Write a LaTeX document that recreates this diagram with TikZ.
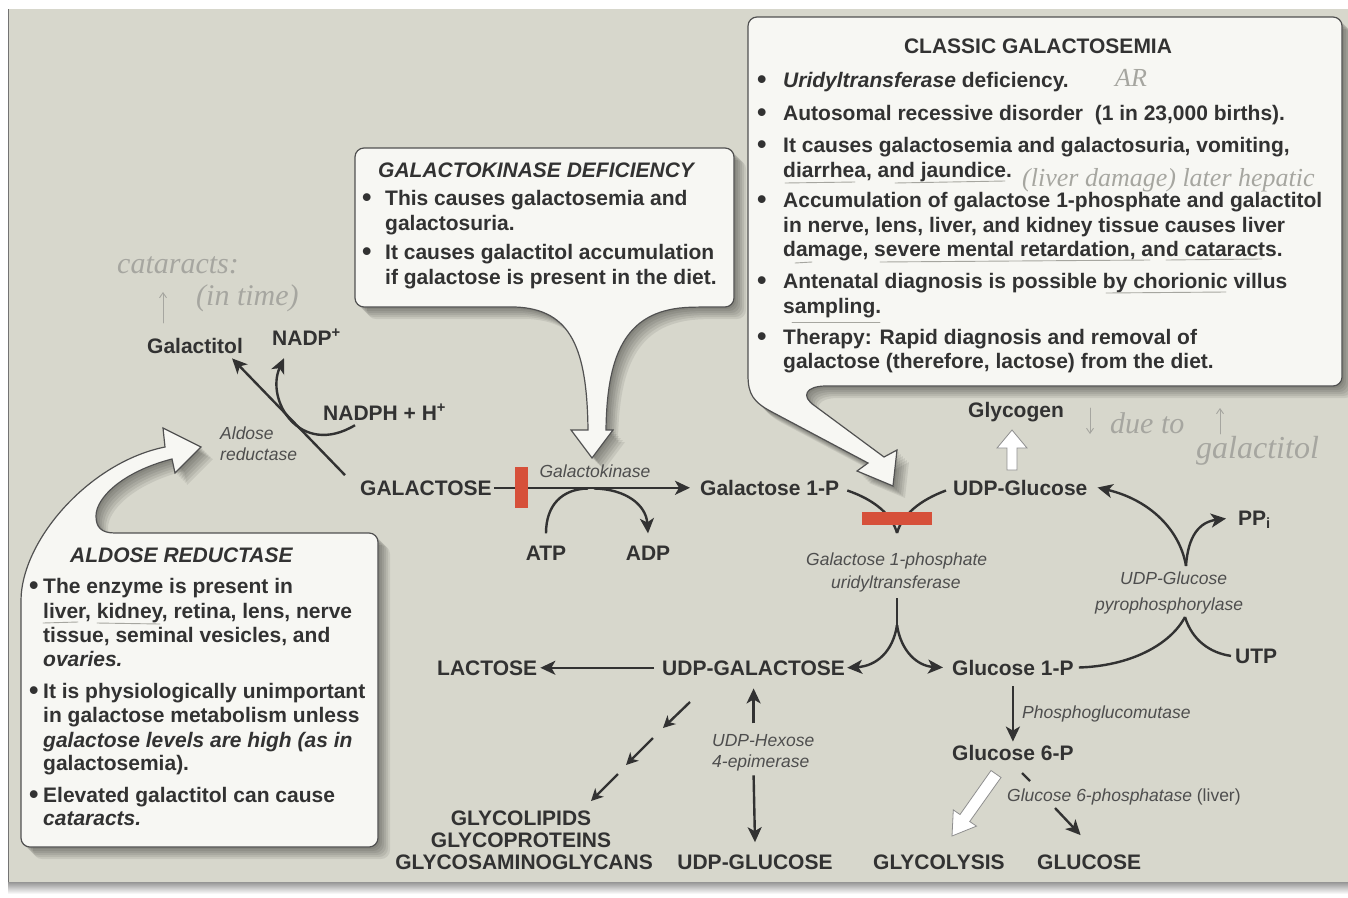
\documentclass[tikz,border=0pt]{standalone}
\usepackage{fontspec}
\setmainfont{Liberation Sans}
\newfontfamily\handfont{Liberation Serif}
\usetikzlibrary{arrows.meta}

\definecolor{page}{RGB}{215,215,204}
\definecolor{ink}{RGB}{50,50,50}
\definecolor{enz}{RGB}{78,78,78}
\definecolor{boxfill}{RGB}{247,247,243}
\definecolor{block}{RGB}{214,80,58}
\definecolor{pencil}{RGB}{166,166,160}

\newcommand\bulletbox[1]{\makebox[#1][l]{\fontsize{27}{24}\selectfont\raisebox{-1.5pt}{\textbullet}}}

% callout outlines (pixel-like units, y downwards)
\def\gkpath{(355,230) [rounded corners=9pt] -- (355,148) -- (734,148) -- (734,307) -- (700,307) [sharp corners]
  .. controls (628,309) and (607,350) .. (606,430) -- (613,430) -- (592,458) -- (571,430) -- (588,430)
  .. controls (587,350) and (572,309) .. (515,307) [rounded corners=9pt] -- (355,307) -- cycle}
\def\cgpath{(1342,200) [rounded corners=9pt] -- (1342,386) -- (835,386) [sharp corners]
  .. controls (806,386) and (800,396) .. (815,406) -- (884,457) -- (897,450) -- (893,486) -- (857,471) -- (868,463)
  -- (772,412) .. controls (753,402) and (748,394) .. (748,375) [rounded corners=9pt] -- (748,17) -- (1342,17) -- cycle}
\def\arpath{(378,700) [rounded corners=9pt] -- (378,847) -- (21,847) -- (21,610) [sharp corners]
  .. controls (21,540) and (90,462) .. (165,447) -- (163,428) -- (201,447) -- (175,473) -- (172,459)
  .. controls (122,472) and (96,498) .. (96,516) .. controls (96,527) and (101,533) .. (115,533)
  [rounded corners=9pt] -- (378,533) -- cycle}

\begin{document}
\begin{tikzpicture}[x=1pt,y=-1pt,
  lbl/.style={font=\bfseries\fontsize{21}{24}\selectfont, text=ink, inner sep=0pt, anchor=base west},
  enzyme/.style={font=\itshape\fontsize{17.5}{21}\selectfont, text=enz, inner sep=0pt, anchor=base west},
  boxtext/.style={font=\bfseries\fontsize{21}{24}\selectfont, text=ink, inner sep=0pt, anchor=base west},
  boxtitle/.style={font=\bfseries\itshape\fontsize{21}{24}\selectfont, text=ink, inner sep=0pt, anchor=base west},
  line/.style={draw=ink, line width=2.4pt},
  flow/.style={draw=ink, line width=2.4pt, -{Stealth[length=15pt,width=14pt,inset=4pt]}},
  smallflow/.style={draw=ink, line width=2.4pt, -{Stealth[length=12pt,width=12pt,inset=3.5pt]}},
  callout/.style={fill=boxfill, draw=ink!85, line width=1.2pt},
  shadowlayer/.style={fill=black, opacity=0.075},
  whitearrow/.style={fill=white, draw=ink!55, line width=0.8pt},
  blockbar/.style={fill=block},
  hand/.style={font=\handfont\itshape\fontsize{30}{32}\selectfont, text=pencil, inner sep=0pt, anchor=base west},
  pencilline/.style={draw=pencil, line width=0.9pt, line cap=round}]

\useasboundingbox (0,0) rectangle (1348,897);
\fill[white] (0,0) rectangle (1348,897);

% page
\shade[top color=black!45, bottom color=white] (8,881) rectangle (1348,894);
\fill[page] (8,9) rectangle (1348,882);
\draw[black!55, line width=1.2pt] (8.6,9) -- (8.6,882);

% shadows of the callouts
\foreach \s in {2,4,6,8,10,12}{
  \fill[shadowlayer, xshift=\s pt, yshift=-\s pt] \gkpath;
  \fill[shadowlayer, xshift=\s pt, yshift=-\s pt] \cgpath;
  \fill[shadowlayer, xshift=\s pt, yshift=-\s pt] \arpath;
}
\path[callout] \gkpath;
\path[callout] \cgpath;
\path[callout] \arpath;

% ---------- galactokinase deficiency box
\node[boxtitle] (gkt) at (378,177) {GALACTOKINASE DEFICIENCY};
\node[boxtext] (gk1) at (362,205) {\bulletbox{23pt}This causes galactosemia and};
\node[boxtext] (gk2) at (385,230) {galactosuria.};
\node[boxtext] (gk3) at (362,259) {\bulletbox{23pt}It causes galactitol accumulation};
\node[boxtext] (gk4) at (385,284) {if galactose is present in the diet.};

% ---------- classic galactosemia box
\node[boxtext, anchor=base] (cgt) at (1038,53) {CLASSIC GALACTOSEMIA};
\node[boxtext] (cg1) at (757,87) {\bulletbox{26pt}\textit{Uridyltransferase} deficiency.};
\node[boxtext] (cg2) at (757,120) {\bulletbox{26pt}Autosomal recessive disorder\ \ (1 in 23,000 births).};
\node[boxtext] (cg3) at (757,152) {\bulletbox{26pt}It causes galactosemia and galactosuria, vomiting,};
\node[boxtext] (cg4) at (783,177) {diarrhea, and jaundice.};
\node[boxtext] (cg5) at (757,207) {\bulletbox{26pt}Accumulation of galactose 1-phosphate and galactitol};
\node[boxtext] (cg6) at (783,232) {in nerve, lens, liver, and kidney tissue causes liver};
\node[boxtext] (cg7) at (783,256) {damage, severe mental retardation, and cataracts.};
\node[boxtext] (cg8) at (757,288) {\bulletbox{26pt}Antenatal diagnosis is possible by chorionic villus};
\node[boxtext] (cg9) at (783,313) {sampling.};
\node[boxtext] (cg10) at (757,344) {\bulletbox{26pt}Therapy: Rapid diagnosis and removal of};
\node[boxtext] (cg11) at (783,368) {galactose (therefore, lactose) from the diet.};

% ---------- aldose reductase box
\node[boxtitle] (art) at (70,562) {ALDOSE REDUCTASE};
\node[boxtext] (ar1) at (29,593) {\bulletbox{14pt}The enzyme is present in};
\node[boxtext] (ar2) at (43,618) {liver, kidney, retina, lens, nerve};
\node[boxtext] (ar3) at (43,642) {tissue, seminal vesicles, and};
\node[boxtext] (ar4) at (43,666) {\textit{ovaries.}};
\node[boxtext] (ar5) at (29,698) {\bulletbox{14pt}It is physiologically unimportant};
\node[boxtext] (ar6) at (43,722) {in galactose metabolism unless};
\node[boxtext] (ar7) at (43,747) {\textit{galactose levels are high (as in}};
\node[boxtext] (ar8) at (43,770) {galactosemia).};
\node[boxtext] (ar9) at (29,802) {\bulletbox{14pt}Elevated galactitol can cause};
\node[boxtext] (ar10) at (43,825) {\textit{cataracts.}};

% ---------- metabolites
\node[lbl] (galactitol) at (147,353) {Galactitol};
\node[lbl] (nadp) at (272,345) {NADP\textsuperscript{+}};
\node[lbl] (nadph) at (323,420) {NADPH + H\textsuperscript{+}};
\node[lbl] (galactose) at (360,495) {GALACTOSE};
\node[lbl, anchor=base] (atp) at (546,560) {ATP};
\node[lbl, anchor=base] (adp) at (648,560) {ADP};
\node[lbl] (gal1p) at (700,495) {Galactose 1-P};
\node[lbl] (glycogen) at (968,417) {Glycogen};
\node[lbl] (udpglc) at (953,495) {UDP-Glucose};
\node[lbl] (ppi) at (1238,525) {PP\textsubscript{i}};
\node[lbl] (utp) at (1235,663) {UTP};
\node[lbl] (lactose) at (437,675) {LACTOSE};
\node[lbl] (udpgal) at (662,675) {UDP-GALACTOSE};
\node[lbl] (glc1p) at (952,675) {Glucose 1-P};
\node[lbl] (glc6p) at (952,760) {Glucose 6-P};
\node[lbl, anchor=base] (glycolipids) at (521,825) {GLYCOLIPIDS};
\node[lbl, anchor=base] (glycoproteins) at (521,847) {GLYCOPROTEINS};
\node[lbl, anchor=base] (gags) at (524,869) {GLYCOSAMINOGLYCANS};
\node[lbl, anchor=base] (udpglucose) at (755,869) {UDP-GLUCOSE};
\node[lbl] (glycolysis) at (873,869) {GLYCOLYSIS};
\node[lbl] (glucose) at (1037,869) {GLUCOSE};

% ---------- enzymes
\node[enzyme] (aldose1) at (220,439) {Aldose};
\node[enzyme] (aldose2) at (220,460) {reductase};
\node[enzyme, anchor=base] (galk) at (595,477) {Galactokinase};
\node[enzyme] (galt1) at (806,565) {Galactose 1-phosphate};
\node[enzyme] (galt2) at (831,588) {uridyltransferase};
\node[enzyme] (pyro1) at (1120,584) {UDP-Glucose};
\node[enzyme] (pyro2) at (1095,610) {pyrophosphorylase};
\node[enzyme] (epi1) at (712,746) {UDP-Hexose};
\node[enzyme] (epi2) at (712,767) {4-epimerase};
\node[enzyme] (pgm) at (1022,718) {Phosphoglucomutase};
\node[enzyme] (g6pase) at (1007,801) {Glucose 6-phosphatase \textup{(liver)}};

% ---------- junction points
\coordinate (gkjoin) at (588,488.5);
\coordinate (gksplit) at (594,488.5);
\coordinate (vtip) at (897,533);
\coordinate (tstem) at (897,598);
\coordinate (tsplit) at (897,625);
\coordinate (pyrohigh) at (1186,566);
\coordinate (pyrolow) at (1185,617);
\coordinate (gl1a) at (690,702);
\coordinate (gl1b) at (663,728);
\coordinate (gl2a) at (653,738);
\coordinate (gl2b) at (626,765);
\coordinate (gl3a) at (618,774);
\coordinate (gl3b) at (591,801);
\coordinate (g6tick) at (1022,773);
\coordinate (g6tickend) at (1030,781);
\coordinate (g6arrow) at (1055,808);

% ---------- reactions
% galactose -> galactitol (aldose reductase)
\draw[flow] ([xshift=-15pt,yshift=5pt]galactose.north west) -- ([xshift=-11pt,yshift=-5pt]galactitol.south east);
\draw[flow] ([xshift=32pt,yshift=-5pt]nadph.south west) .. controls (300,458) and (265,400) .. ([xshift=12pt,yshift=-13pt]nadp.south west);

% galactose -> galactose 1-P (galactokinase)
\draw[flow, shorten >=10pt] ([xshift=2pt]galactose.east) -- (galactose.east -| gal1p.west);
\draw[line] ([yshift=12pt]atp.north) .. controls (546,505) and (562,489) .. (gkjoin);
\draw[flow] (gksplit) .. controls (626,489) and (646,505) .. ([yshift=12pt]adp.north);
\fill[blockbar] (515,467) rectangle (528,508);

% galactose 1-P + UDP-glucose -> uridyltransferase
\draw[line] ([xshift=8pt,yshift=-3pt]gal1p.east) .. controls (875,500) and (892,515) .. (vtip);
\draw[line] ([xshift=-7pt,yshift=-3pt]udpglc.west) .. controls (920,500) and (902,515) .. (vtip);
\fill[blockbar] (862,512) rectangle (932,525);
\draw[line] (tstem) -- (tsplit);
\draw[flow] (tsplit) .. controls (893,652) and (876,666) .. ([xshift=2pt]udpgal.east);
\draw[flow] (tsplit) .. controls (901,652) and (918,666) .. ([xshift=-9pt]glc1p.west);

% UDP-galactose fates
\draw[flow] ([xshift=-8pt]udpgal.west) -- ([xshift=3pt]lactose.east);
\draw[smallflow] (gl1a) -- (gl1b);
\draw[smallflow] (gl2a) -- (gl2b);
\draw[smallflow] (gl3a) -- (gl3b);
\draw[flow] ([yshift=-48pt]udpgal.south) -- ([yshift=-13pt]udpgal.south);
\draw[flow] ([yshift=-100pt]udpgal.south) -- ([yshift=12pt]udpglucose.north);

% UDP-glucose pyrophosphorylase
\draw[line] ([xshift=5pt]glc1p.east) .. controls (1130,666) and (1170,645) .. (pyrolow);
\draw[line] (pyrolow) .. controls (1192,640) and (1210,653) .. ([xshift=-4pt]utp.west);
\draw[flow] (pyrohigh) .. controls (1180,530) and (1150,500) .. ([xshift=10pt]udpglc.east);
\draw[flow] (pyrohigh) .. controls (1188,535) and (1200,522) .. ([xshift=-12pt,yshift=1pt]ppi.west);

% UDP-glucose -> glycogen
\path[whitearrow] (1007,470) -- (1007,448) -- (997,448) -- (1012,430) -- (1027,448) -- (1017,448) -- (1017,470) -- cycle;

% glucose 1-P -> glucose 6-P -> glycolysis / glucose
\draw[flow] ([yshift=-11pt]glc1p.south) -- ([yshift=3pt]glc6p.north);
\path[whitearrow] (991,770.5) -- (960,814.5) -- (953.3,809.9) -- (952,836) -- (976.5,826.1) -- (969.7,821.5) -- (1001,777.5) -- cycle;
\draw[line] (g6tick) -- (g6tickend);
\draw[flow] (g6arrow) -- ([xshift=-8.5pt,yshift=19pt]glucose.north);

% ---------- pencil notes
\node[hand] (note1) at (117,273) {cataracts:};
\node[hand] (note2) at (196,305) {(in time)};
\draw[pencilline, -{Straight Barb[length=5pt,width=7pt]}] (163,323) -- (163,292);
\node[hand, font=\handfont\itshape\fontsize{26}{28}\selectfont] (note3) at (1115,86) {AR};
\node[hand, font=\handfont\itshape\fontsize{26}{28}\selectfont] (note4) at (1022,186) {(liver damage) later hepatic};
\node[hand, font=\handfont\itshape\fontsize{30}{32}\selectfont] (note5) at (1110,433) {due to};
\draw[pencilline, -{Straight Barb[length=5pt,width=7pt]}] (1090,408) -- (1090,434);
\draw[pencilline, -{Straight Barb[length=5pt,width=7pt]}] (1220,434) -- (1220,408);
\node[hand, font=\handfont\itshape\fontsize{32}{34}\selectfont] (note6) at (1196,458) {galactitol};
\draw[pencilline] (43,623) -- (78,622);
\draw[pencilline] (97,623) -- (160,624);
\draw[pencilline] (785,183) -- (855,182);
\draw[pencilline] (895,183) -- (1005,181);
\draw[pencilline] (795,263) -- (812,262);
\draw[pencilline] (880,262) -- (1150,260);
\draw[pencilline] (1166,260) -- (1262,259);
\draw[pencilline] (1106,293) -- (1226,292);
\draw[pencilline] (792,322) -- (880,322);
\end{tikzpicture}
\end{document}
